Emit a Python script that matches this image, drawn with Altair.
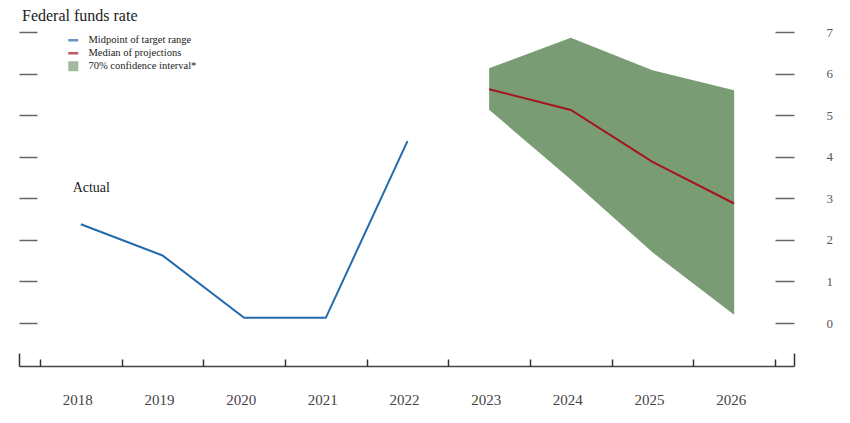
import altair as alt
import pandas as pd

# ---- data ----
title_text = "Federal funds rate"
years_actual = [2018, 2019, 2020, 2021, 2022]
rate_actual = [2.375, 1.625, 0.125, 0.125, 4.375]
years_proj = [2023, 2024, 2025, 2026]
median_proj = [5.625, 5.125, 3.875, 2.875]
ci_low = [5.13, 3.45, 1.70, 0.20]
ci_high = [6.13, 6.86, 6.08, 5.60]
year_labels = list(range(2018, 2027))
y_ticks = list(range(0, 8))
x_boundaries = [y + 0.5 for y in range(2017, 2027)]
series_names = ["Midpoint of target range", "Median of projections", "70% confidence interval*"]
series_colors = ["#236bab", "#a3171c", "#7a9c74"]
annot_text = ["Actual"]
annot_x = [2017.9]
annot_y = [3.15]
X_DOMAIN = [2017.243, 2026.733]
Y_DOMAIN = [-1.034, 7.193]

FONT = "Liberation Serif"

df_act = pd.DataFrame({"year": years_actual, "rate": rate_actual})
df_proj = pd.DataFrame({"year": years_proj, "median": median_proj, "lo": ci_low, "hi": ci_high})
df_ann = pd.DataFrame({"label": annot_text, "x": annot_x, "y": annot_y})
df_leg = pd.DataFrame({"series": series_names})

xs = alt.Scale(domain=X_DOMAIN, zero=False, nice=False)
ys = alt.Scale(domain=Y_DOMAIN, zero=False, nice=False)

area = alt.Chart(df_proj).mark_area(color=series_colors[2], opacity=1).encode(
    x=alt.X("year:Q", scale=xs, axis=alt.Axis(
        orient="bottom", values=year_labels, format="d", ticks=False, tickSize=0,
        domain=True, domainColor="#444", domainWidth=1.5, labelPadding=26,
        labelOffset=-3.5,
        labelFont=FONT, labelFontSize=15, labelColor="#444", labelOverlap=False,
        labelFlush=False, grid=False, title=None)),
    y=alt.Y("lo:Q", scale=ys, axis=alt.Axis(
        orient="right", values=y_ticks, offset=-19, tickSize=19, tickColor="#666",
        tickWidth=1.5, domain=False, labelPadding=32, labelFont=FONT, labelFontSize=13,
        labelColor="#555", grid=False, title=None)),
    y2="hi:Q",
)

act_line = alt.Chart(df_act).mark_line(color=series_colors[0], strokeWidth=2).encode(
    x=alt.X("year:Q", scale=xs, axis=alt.Axis(
        orient="bottom", values=x_boundaries, offset=-7, tickSize=7, tickColor="#333",
        tickWidth=1.5, domain=False, labels=False, grid=False, title=None)),
    y=alt.Y("rate:Q", scale=ys, axis=alt.Axis(
        orient="left", values=y_ticks, offset=-18, tickSize=18, tickColor="#666",
        tickWidth=1.5, domain=False, labels=False, grid=False, title=None)),
)

med_line = alt.Chart(df_proj).mark_line(color=series_colors[1], strokeWidth=2).encode(
    x=alt.X("year:Q", scale=xs, axis=alt.Axis(
        orient="bottom", values=X_DOMAIN, offset=-13, tickSize=13, tickColor="#333",
        tickWidth=1.5, domain=False, labels=False, grid=False, title=None)),
    y=alt.Y("median:Q", scale=ys, axis=None),
)

ann = alt.Chart(df_ann).mark_text(
    align="left", baseline="alphabetic", font=FONT, fontSize=14, color="#222"
).encode(
    x=alt.X("x:Q", scale=xs, axis=None),
    y=alt.Y("y:Q", scale=ys, axis=None),
    text="label:N",
)

leg = alt.Legend(
    title=None, orient="none", legendX=49, legendY=11, symbolSize=100,
    symbolStrokeWidth=0, labelFont=FONT, labelFontSize=10.5, labelColor="#222",
    labelOffset=10, rowPadding=2, padding=0,
)
shape_paths = ["M-1,-0.25L1,-0.25L1,0.25L-1,0.25Z", "M-1,-0.25L1,-0.25L1,0.25L-1,0.25Z", "square"]

legend_layer = alt.Chart(df_leg).transform_filter("false").mark_point(filled=True, size=100).encode(
    color=alt.Color("series:N", scale=alt.Scale(domain=series_names, range=series_colors), legend=leg),
    shape=alt.Shape("series:N", scale=alt.Scale(domain=series_names, range=shape_paths), legend=leg),
)

chart = alt.layer(area, med_line, act_line, ann, legend_layer).resolve_axis(
    x="independent", y="independent"
).properties(
    width=775, height=342,
    title=alt.TitleParams(text=title_text, anchor="start", frame="group", font=FONT,
                          fontSize=16, fontWeight="normal", color="#222", dx=3, dy=21,
                          offset=8, baseline="alphabetic"),
    autosize=alt.AutoSizeParams(type="none"),
    padding={"left": 11, "top": 16, "right": 45, "bottom": 50},
).configure_view(stroke=None)

chart.save("out.html", embed_options={"renderer": "svg", "actions": False})
